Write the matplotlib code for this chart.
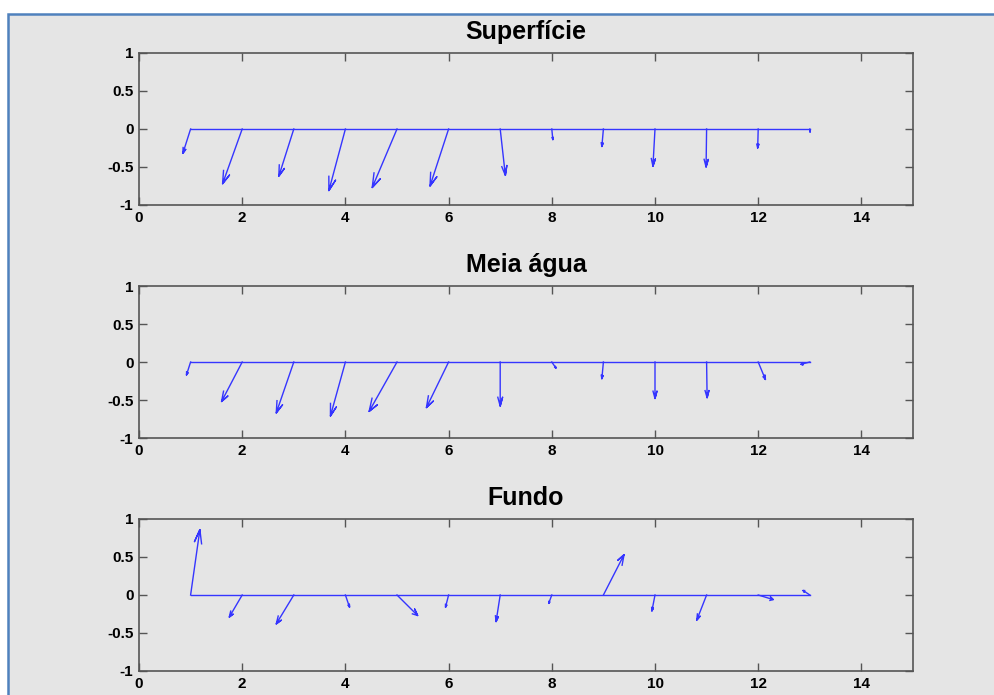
import numpy as np
import matplotlib
matplotlib.use("Agg")
from matplotlib import pyplot as plt
from matplotlib.patches import Rectangle

plt.rcParams['font.family'] = ['Liberation Sans', 'DejaVu Sans']

# east (u) and north (v) components, one vector per station 1..13
sup_u = [-0.15, -0.38, -0.29, -0.32, -0.48, -0.36, 0.10, 0.02, -0.03, -0.04, -0.01, -0.01, 0.005]
sup_v = [-0.32, -0.72, -0.62, -0.81, -0.77, -0.75, -0.61, -0.14, -0.23, -0.49, -0.50, -0.25, -0.04]

meia_u = [-0.08, -0.40, -0.34, -0.29, -0.54, -0.43, 0.0, 0.08, -0.03, 0.0, 0.01, 0.14, -0.17]
meia_v = [-0.17, -0.52, -0.67, -0.71, -0.65, -0.60, -0.58, -0.08, -0.22, -0.48, -0.47, -0.23, -0.03]

fundo_u = [0.18, -0.25, -0.34, 0.08, 0.40, -0.06, -0.08, -0.06, 0.40, -0.06, -0.19, 0.29, -0.13]
fundo_v = [0.86, -0.29, -0.38, -0.16, -0.27, -0.16, -0.35, -0.11, 0.53, -0.21, -0.33, -0.06, 0.06]

titles = ['Superfície', 'Meia água', 'Fundo']
xticks = [0, 2, 4, 6, 8, 10, 12, 14]
yticks = [-1, -0.5, 0, 0.5, 1]
ytick_labels = ['-1', '-0.5', '0', '0.5', '1']

BG = '#e5e5e5'
ARROW = '#3535ff'


def feather(ax, u, v):
    # same arrow shape as matlab's feather: shaft, tip, two barbs
    z = np.asarray(u) + 1j * np.asarray(v)
    shape = np.array([0, 1, 0.8 + 0.08j, 1, 0.8 - 0.08j])
    pos = np.arange(1, len(z) + 1)
    pts = shape[:, None] * z[None, :] + pos[None, :]
    ax.plot(pts.real, pts.imag, color=ARROW, lw=1.0)
    ax.plot([1, len(z)], [0, 0], color=ARROW, lw=1.0)


fig = plt.figure(figsize=(9.94, 6.95), dpi=100, facecolor='white')
fig.add_artist(Rectangle((8 / 994, -0.05), 1.0, 1 - 14 / 695 + 0.05,
                         transform=fig.transFigure, facecolor=BG,
                         edgecolor='#4f81bd', lw=1.8, zorder=0))

left, width, height = 139 / 994, 774 / 994, 152 / 695
bottoms = [1 - 205 / 695, 1 - 438 / 695, 1 - 671 / 695]
data = [(sup_u, sup_v), (meia_u, meia_v), (fundo_u, fundo_v)]

for b, title, (u, v) in zip(bottoms, titles, data):
    ax = fig.add_axes([left, b, width, height])
    ax.set_facecolor(BG)
    feather(ax, u, v)
    ax.set_xlim(0, 15)
    ax.set_ylim(-1, 1)
    ax.set_xticks(xticks)
    ax.set_xticklabels([str(t) for t in xticks])
    ax.set_yticks(yticks)
    ax.set_yticklabels(ytick_labels)
    ax.tick_params(direction='in', length=6, width=1, color='#555555',
                   top=True, right=True, labelsize=11, pad=4)
    for lab in ax.get_xticklabels() + ax.get_yticklabels():
        lab.set_fontweight('bold')
    for s in ax.spines.values():
        s.set_color('#555555')
        s.set_linewidth(1.2)
    ax.set_title(title, fontsize=18, fontweight='bold', pad=10)

fig.savefig('out.png', dpi=100, facecolor='white')
